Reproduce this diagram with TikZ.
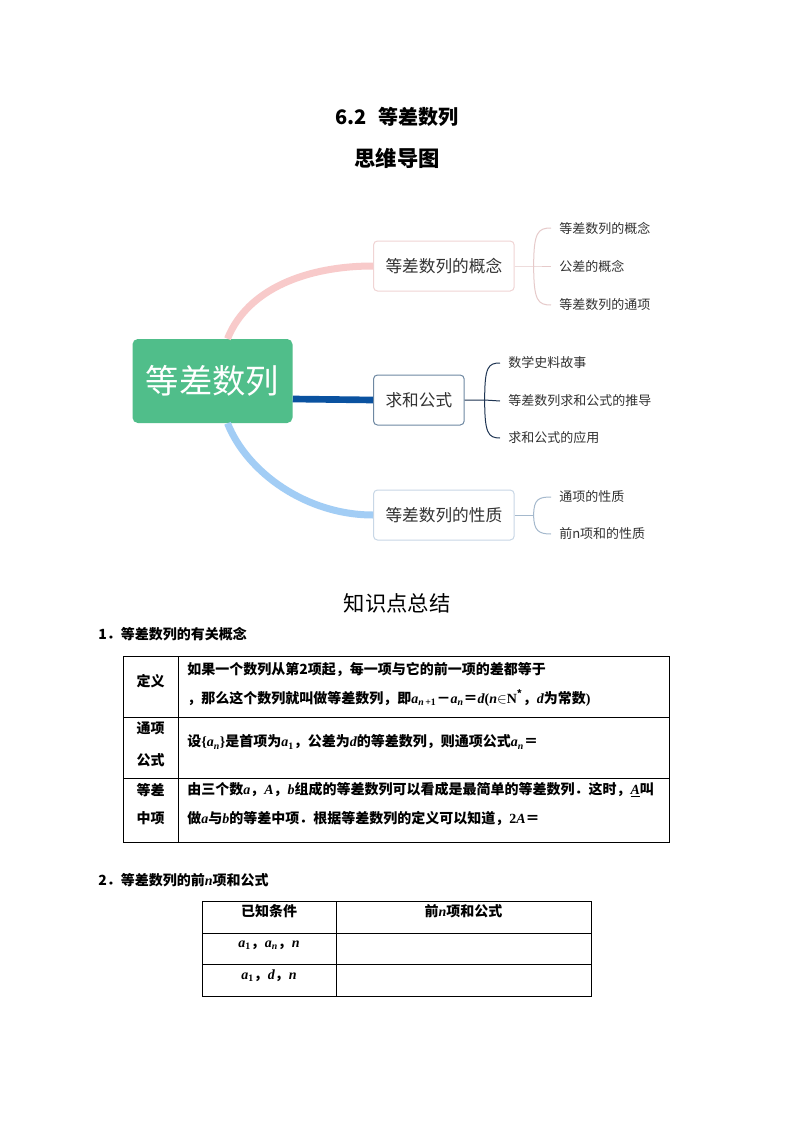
\documentclass[tikz,border=0pt]{standalone}
\usepackage{amsmath,amssymb}
\usepackage{fontspec}
\setmainfont{Noto Sans CJK SC}
\newfontfamily\tnr{Liberation Serif}
\newcommand{\mv}[1]{{\tnr\bfseries\itshape #1}}
\newcommand{\mup}[1]{{\tnr\bfseries #1}}
\newcommand{\sbs}[1]{\textsubscript{#1}}
\usetikzlibrary{positioning,calc}
\definecolor{mapGreen}{RGB}{80,190,138}
\definecolor{pinkBranch}{RGB}{248,202,202}
\definecolor{blueBranch}{RGB}{162,205,245}
\definecolor{navyBranch}{RGB}{10,82,160}
\definecolor{pinkBorder}{RGB}{240,212,212}
\definecolor{navyBorder}{RGB}{110,136,162}
\definecolor{blueBorder}{RGB}{200,215,230}
\definecolor{pinkThin}{RGB}{230,202,202}
\definecolor{navyThin}{RGB}{30,52,82}
\definecolor{blueThin}{RGB}{165,185,205}
\definecolor{textGray}{RGB}{50,50,50}

\begin{document}
\begin{tikzpicture}[x=0.75pt,y=-0.75pt,
    topic/.style={draw, anchor=west, rounded corners=3pt, line width=0.75pt,
        minimum height=37.5pt, inner xsep=9pt, text=textGray,
        font=\fontsize{12.5}{14}\selectfont},
    leaf/.style={anchor=west, inner xsep=6pt, inner ysep=0pt, text=textGray,
        font=\fontsize{9.75}{11}\selectfont},
    cell/.style={inner sep=0pt, font=\fontsize{10.5}{12}\selectfont\bfseries},
    grid/.style={line width=0.75pt, black}
    ]
        \fill[white] (0,0) rectangle (794,1123);
        \useasboundingbox (0,0) rectangle (794,1123);

        \node[font=\fontsize{15}{18}\selectfont\bfseries] (title) at (397,117) {6.2\hspace{0.6em}等差数列};
        \node[font=\fontsize{16}{19}\selectfont\bfseries] (subtitle) at (397,158) {思维导图};

        % mind map
        \node[fill=mapGreen, rounded corners=4pt, minimum width=120pt, minimum height=63pt,
            text=white, font=\fontsize{25}{28}\selectfont] (main) at (212.5,381) {等差数列};
        \node[topic, draw=pinkBorder] (gainian) at (373,266) {等差数列的概念};
        \node[topic, draw=navyBorder] (qiuhe) at (373,400) {求和公式};
        \node[topic, draw=blueBorder] (xingzhi) at (373,515) {等差数列的性质};

        \draw[pinkBranch, line width=5.25pt] ($(main.north)+(15,0)$) .. controls +(20,-50) and +(-66,0) .. (gainian.west);
        \draw[navyBranch, line width=5pt] ($(main.east)+(0,18)$) .. controls +(40,0) and +(-40,0) .. (qiuhe.west);
        \draw[blueBranch, line width=5.25pt] ($(main.south)+(15,0)$) .. controls +(20,50) and +(-66,0) .. (xingzhi.west);

        \node[leaf] (g1) at (551,228) {等差数列的概念};
        \node[leaf] (g2) at (551,266) {公差的概念};
        \node[leaf] (g3) at (551,305) {等差数列的通项};
        \coordinate (gb) at ($(gainian.east)+(19,0)$);
        \draw[pinkThin, line width=0.75pt] (gainian.east) -- (gb) -- (g2.west);
        \draw[pinkThin, line width=0.75pt] (gb) .. controls +(0,-34) and +(-13,0) .. (g1.west);
        \draw[pinkThin, line width=0.75pt] (gb) .. controls +(0,35) and +(-13,0) .. (g3.west);

        \node[leaf] (q1) at (500,363) {数学史料故事};
        \node[leaf] (q2) at (500,401) {等差数列求和公式的推导};
        \node[leaf] (q3) at (500,438) {求和公式的应用};
        \coordinate (qb) at ($(qiuhe.east)+(20,0)$);
        \draw[navyThin, line width=0.75pt] (qiuhe.east) -- (qb) -- (q2.west);
        \draw[navyThin, line width=0.75pt] (qb) .. controls +(0,-33) and +(-12,0) .. (q1.west);
        \draw[navyThin, line width=0.75pt] (qb) .. controls +(0,33) and +(-12,0) .. (q3.west);

        \node[leaf] (x1) at (551,497) {通项的性质};
        \node[leaf] (x2) at (551,534) {前n项和的性质};
        \coordinate (xb) at ($(xingzhi.east)+(19,0)$);
        \draw[blueThin, line width=0.75pt] (xingzhi.east) -- (xb);
        \draw[blueThin, line width=0.75pt] (xb) .. controls +(0,-16) and +(-12,0) .. (x1.west);
        \draw[blueThin, line width=0.75pt] (xb) .. controls +(0,16) and +(-12,0) .. (x2.west);

        % summary
        \node[font=\fontsize{16}{19}\selectfont] (summary) at (397,603) {知识点总结};
        \node[cell, anchor=west] (sec1) at (98,634) {1．等差数列的有关概念};

        \draw[grid] (123,656) rectangle (669,842);
        \draw[grid] (178,656) -- (178,842);
        \draw[grid] (123,717) -- (669,717);
        \draw[grid] (123,778) -- (669,778);

        \node[cell] (dingyi) at (150.5,681) {定义};
        \node[cell, anchor=west] (dingyiA) at (187,670) {如果一个数列从第2项起，每一项与它的前一项的差都等于};
        \node[cell, anchor=west] (dingyiB) at (187,698) {，那么这个数列就叫做等差数列，即\mv{a}\sbs{\mv{n}\,\mup{+1}}－\mv{a}\sbs{\mv{n}}＝\mv{d}\mup{(}\mv{n}$\in$\mup{N}\textsuperscript{*}，\mv{d}为常数\mup{)}};
        \node[cell] (tongxiangA) at (150.5,728) {通项};
        \node[cell] (tongxiangB) at (150.5,760) {公式};
        \node[cell, anchor=west] (tongxiang) at (187,742) {设\mup{\{}\mv{a}\sbs{\mv{n}}\mup{\}}是首项为\mv{a}\sbs{\mup{1}}，公差为\mv{d}的等差数列，则通项公式\mv{a}\sbs{\mv{n}}＝};
        \node[cell] (zhongxiangA) at (150.5,790) {等差};
        \node[cell] (zhongxiangB) at (150.5,818) {中项};
        \node[cell, anchor=west] (zhongA) at (187,790) {由三个数\mv{a}，\mv{A}，\mv{b}组成的等差数列可以看成是最简单的等差数列．这时，\underline{\mv{A}}叫};
        \node[cell, anchor=west] (zhongB) at (187,818) {做\mv{a}与\mv{b}的等差中项．根据等差数列的定义可以知道，\mup{2}\mv{A}＝};

        \node[cell, anchor=west] (sec2) at (98,880) {2．等差数列的前\mv{n}项和公式};

        \draw[grid] (202,901) rectangle (591,996);
        \draw[grid] (336,901) -- (336,996);
        \draw[grid] (202,933) -- (591,933);
        \draw[grid] (202,964) -- (591,964);

        \node[cell] (cond) at (269,911) {已知条件};
        \node[cell] (sumf) at (463.5,911) {前\mv{n}项和公式};
        \node[cell] (condA) at (269,945) {\mv{a}\sbs{\mup{1}}，\mv{a}\sbs{\mv{n}}，\mv{n}};
        \node[cell] (condB) at (269,976) {\mv{a}\sbs{\mup{1}}，\mv{d}，\mv{n}};
    \end{tikzpicture}
\end{document}
